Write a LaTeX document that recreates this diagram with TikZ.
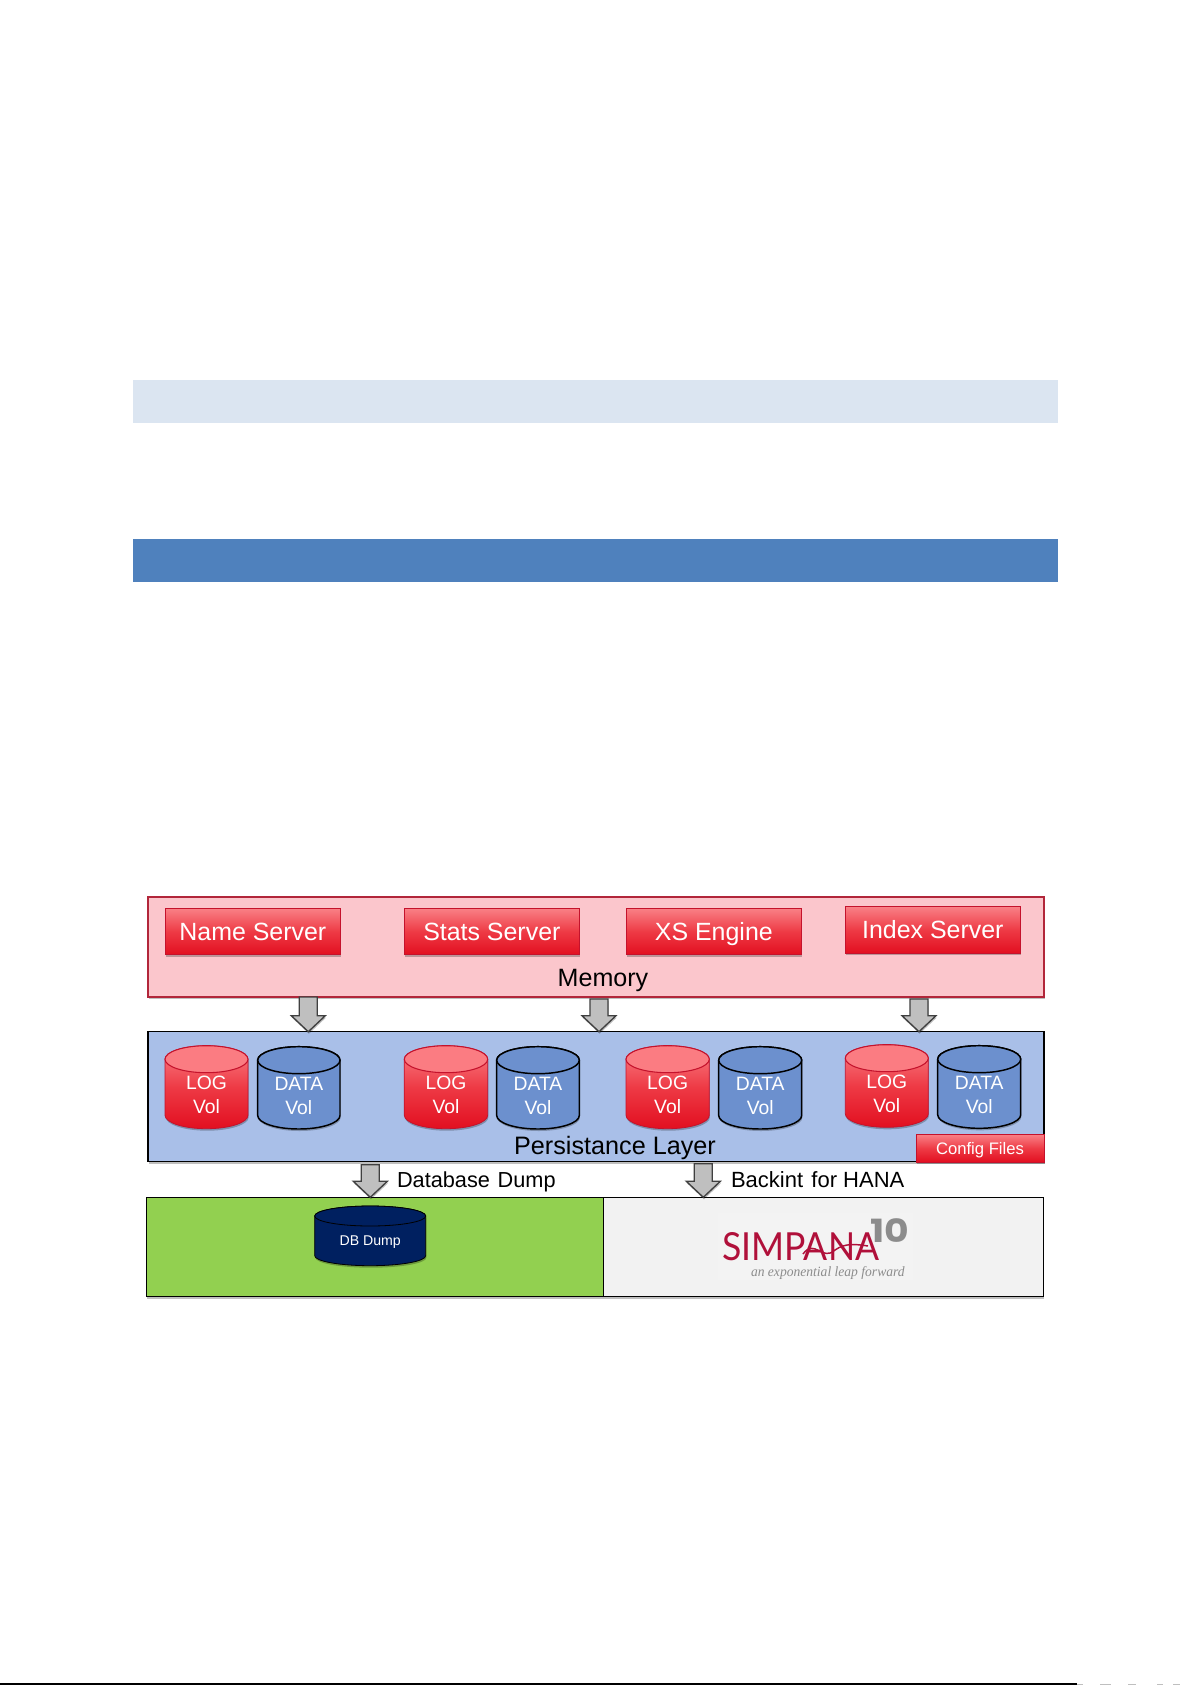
\documentclass[tikz,border=0pt]{standalone}
\usepackage{fontspec}
\setmainfont{Liberation Sans}
\newfontfamily\logofont{Lato}
\newfontfamily\tenfont{Poppins}
\newfontfamily\tagfont{Liberation Serif}
\usetikzlibrary{shadows,calc}
\definecolor{memfill}{HTML}{FBC6CC}
\definecolor{memline}{HTML}{B2263A}
\definecolor{perfill}{HTML}{A9BFE8}
\definecolor{redtop}{HTML}{F98086}
\definecolor{redmid}{HTML}{EE3A45}
\definecolor{redbot}{HTML}{E20F20}
\definecolor{redcap}{HTML}{FB7C82}
\definecolor{redline}{HTML}{C4122C}
\definecolor{datafill}{HTML}{6C90CE}
\definecolor{dumpfill}{HTML}{002060}
\definecolor{greenfill}{HTML}{92D050}
\definecolor{greyfill}{HTML}{F2F2F2}
\definecolor{arrowfill}{HTML}{BFBFBF}
\definecolor{arrowline}{HTML}{404040}
\definecolor{logored}{HTML}{B0103A}
\definecolor{logogrey}{HTML}{8C8C8C}
\definecolor{barlight}{HTML}{DBE5F1}
\definecolor{bardark}{HTML}{4F81BD}
\tikzset{
  softshadow/.style={drop shadow={shadow xshift=0.5pt,shadow yshift=-1.5pt,opacity=.25,fill=black}},
  layer/.style={rectangle,inner sep=0pt,outer sep=0pt},
  redbar/.style={layer,text=white,draw=redline,line width=.6pt,top color=redtop,bottom color=redbot,middle color=redmid,softshadow},
  plain/.style={inner sep=0pt,outer sep=0pt},
  blockarrow/.style={draw=arrowline,line width=1pt,fill=arrowfill,line join=miter,softshadow},
  redbody/.style={draw=redline,line width=.6pt,top color=redtop,bottom color=redbot,middle color=redmid,softshadow},
  redtopcap/.style={draw=redline,line width=.8pt,fill=redcap},
  bluebody/.style={draw=black,line width=1.1pt,fill=datafill,softshadow},
  bluetopcap/.style={draw=black,line width=1.1pt,fill=datafill},
  navybody/.style={draw=black,line width=.6pt,fill=dumpfill,softshadow},
  navytopcap/.style={draw=black,line width=.6pt,fill=dumpfill},
}
% x1 x2 top bottom ry
\newcommand{\cyl}[7]{%
  \path[#6] (#1,#3+#5) -- (#1,#4-#5)
     arc[start angle=180,end angle=0,x radius={(#2-#1)/2},y radius=#5]
     -- (#2,#3+#5)
     arc[start angle=0,end angle=-180,x radius={(#2-#1)/2},y radius=#5] -- cycle;
  \path[#7] ({(#1+#2)/2},#3+#5) ellipse[x radius={(#2-#1)/2},y radius=#5];}
\newcommand{\volcyl}[7]{%
  \cyl{#2}{#3}{#4}{#5}{13.5}{#6body}{#6topcap}
  \node[plain,text=white,font=\fontsize{14.5pt}{17pt}\selectfont] (#1a) at ({(#2+#3)/2},#4+37) {#7};
  \node[plain,text=white,font=\fontsize{14.5pt}{17pt}\selectfont] (#1b) at ({(#2+#3)/2},#4+60.5) {Vol};}
\newcommand{\blockdown}[4]{% x, source, target, top inset
  \coordinate (t) at ($(#1,0 |- #2.south)+(0,#4)$);
  \coordinate (b) at (#1,0 |- #3.north);
  \path[blockarrow] ($(t)+(-9,0)$) -- ($(b)+(-9,-16)$) -- ($(b)+(-17,-16)$) -- (b)
    -- ($(b)+(17,-16)$) -- ($(b)+(9,-16)$) -- ($(t)+(9,0)$) -- cycle;}
\begin{document}
\begin{tikzpicture}[x=.75pt,y=-.75pt]
\useasboundingbox (0,0) rectangle (1192,1685);
\fill[white] (0,0) rectangle (1192,1685);
% page bars
\fill[barlight] (132.5,380) rectangle (1058,423);
\fill[bardark] (132.5,539) rectangle (1058,582);
% memory
\node[layer,draw=memline,line width=1.1pt,fill=memfill,softshadow,minimum width=896pt*.75,minimum height=100pt*.75,anchor=north west] (mem) at (148,897) {};
\node[plain,font=\fontsize{18.8pt}{22pt}\selectfont] (memlab) at (603,980) {Memory};
\foreach \nm/\x/\y/\t in {ns/165/908.3/Name Server,ss/404/908.3/Stats Server,xs/626/908.3/XS Engine,is/845/906.7/Index Server}
  \node[redbar,minimum width=175.7pt*.75,minimum height=46.4pt*.75,anchor=north west,font=\fontsize{18.7pt}{22pt}\selectfont,text height=13.4pt,text depth=0pt] (\nm) at (\x,\y) {\t};
% persistence
\node[layer,draw=black,line width=1.1pt,fill=perfill,softshadow,minimum width=896pt*.75,minimum height=130pt*.75,anchor=north west] (per) at (148,1031.7) {};
\node[plain,font=\fontsize{18.9pt}{23pt}\selectfont] (perlab) at (615,1147.7) {Persistance Layer};
\volcyl{l1}{165}{248}{1045.7}{1128.7}{red}{LOG}
\volcyl{d1}{257.7}{340}{1046.7}{1129}{blue}{DATA}
\volcyl{l2}{404.3}{487.7}{1045.7}{1128.7}{red}{LOG}
\volcyl{d2}{496.7}{579.3}{1046.7}{1129}{blue}{DATA}
\volcyl{l3}{626}{709.3}{1045.7}{1128.7}{red}{LOG}
\volcyl{d3}{718.7}{801.7}{1046.7}{1129}{blue}{DATA}
\volcyl{l4}{845.3}{928.3}{1044.7}{1127.3}{red}{LOG}
\volcyl{d4}{937.7}{1020.7}{1045.7}{1128.3}{blue}{DATA}
\node[redbar,minimum width=128pt*.75,minimum height=28pt*.75,anchor=north west,font=\fontsize{12.5pt}{15pt}\selectfont,text height=9pt,text depth=0pt] (cfg) at (916,1134.3) {Config Files};
% backup targets
\node[layer,draw=black,line width=1.1pt,fill=greenfill,softshadow,minimum width=457pt*.75,minimum height=99.4pt*.75,anchor=north west] (dump) at (146.7,1197.3) {};
\node[layer,draw=black,line width=1.1pt,fill=greyfill,softshadow,minimum width=439.6pt*.75,minimum height=99.4pt*.75,anchor=north west] (back) at (603.7,1197.3) {};
\cyl{314.7}{425.7}{1206}{1265.7}{10}{navybody}{navytopcap}
\node[plain,text=white,font=\fontsize{10.6pt}{13pt}\selectfont] (dblab) at (370.2,1241.7) {DB Dump};
% arrows
\blockdown{308.3}{mem}{per}{0}
\blockdown{599}{mem}{per}{2}
\blockdown{919}{mem}{per}{2}
\blockdown{370.3}{per}{dump}{3}
\blockdown{703.3}{per}{back}{2}
\node[plain,anchor=west,font=\fontsize{16.3pt}{19pt}\selectfont] (dbtxt) at (397,1181.7) {Database\hspace{.35em}Dump};
\node[plain,anchor=west,font=\fontsize{16.5pt}{19pt}\selectfont] (bktxt) at (731,1179.3) {Backint\hspace{.1em} for HANA};
% logo
\fill[white,opacity=.12] (718,1213) rectangle (913,1280);
\node[plain,anchor=west,text=logored,font=\logofont\fontsize{29pt}{32pt}\selectfont,xscale=.92] (simp) at (722,1246.7) {SIMPANA};
\node[plain,anchor=west,text=logogrey,font=\tenfont\fontsize{24pt}{26pt}\bfseries\selectfont,text height=13pt,text depth=0pt,xscale=1.18] (ten) at (870,1234) {10};
\node[plain,anchor=west,text=logogrey,font=\tagfont\itshape\fontsize{10.6pt}{13pt}\selectfont,xscale=.96] (tag) at (751,1272.7) {an exponential leap forward};
\draw[logored,line width=1.1pt] (803,1254) .. controls (815,1238) and (822,1262) .. (835,1250) .. controls (845,1243) and (855,1244) .. (868,1246);
% bottom rule and the cut-off specks beside it
\fill[black] (0,1683.2) rectangle (1077,1685);
\foreach \a/\b in {1077/1083,1100/1111,1128/1136,1157/1163,1173/1180}
  \fill[gray!50] (\a,1684.2) rectangle (\b,1685);
\end{tikzpicture}
\end{document}
